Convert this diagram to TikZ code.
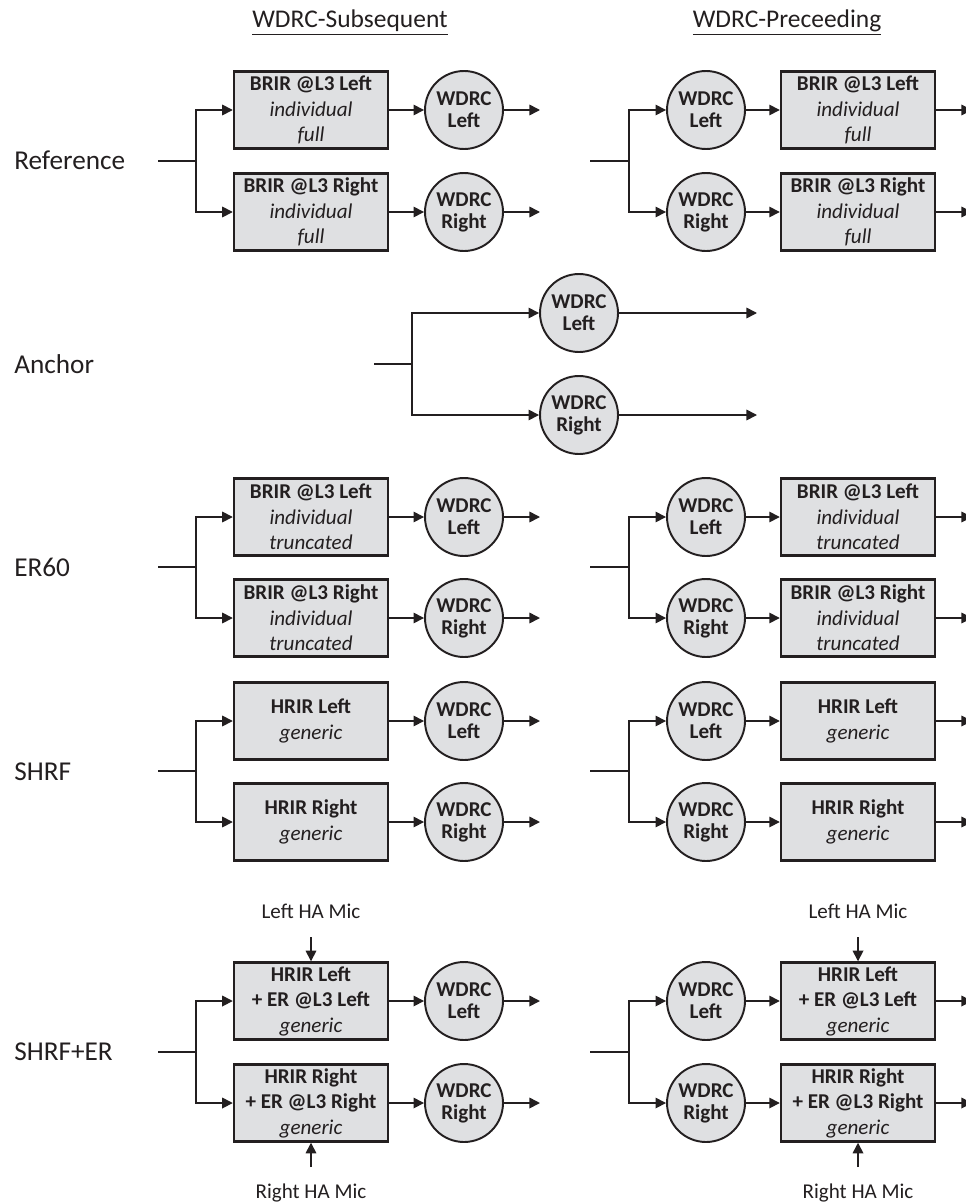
\documentclass[tikz,border=0pt]{standalone}
\usepackage{fontspec}
\setmainfont{Carlito}
\usetikzlibrary{arrows.meta}

\definecolor{blkgray}{RGB}{223,224,226}
\definecolor{ink}{RGB}{35,31,32}

\tikzset{
  blk/.style={draw=ink, line width=1.4pt, fill=blkgray, minimum width=3.08cm,
    minimum height=1.54cm, inner sep=1pt, align=center, text=ink,
    font=\fontsize{12}{14.5}\selectfont},
  wdrc/.style={circle, draw=ink, line width=1.1pt, fill=blkgray, minimum size=1.56cm,
    inner sep=0pt, align=center, text=ink, font=\fontsize{12}{12.5}\selectfont\bfseries},
  wire/.style={draw=ink, line width=0.9pt},
  conn/.style={wire, -{Triangle[length=6pt,width=6pt]}},
  elbow/.style={to path={|- (\tikztotarget)}},
  rowlbl/.style={anchor=base west, inner sep=0pt, text=ink, font=\fontsize{15.5}{18}\selectfont},
  hdr/.style={anchor=base, inner sep=0pt, text=ink, font=\fontsize{14.5}{17}\selectfont},
  mic/.style={anchor=base, inner sep=0pt, text=ink, font=\fontsize{12}{14}\selectfont}
}

\begin{document}
\begin{tikzpicture}[x=0.02cm,y=-0.02cm]
    \useasboundingbox (0,0) rectangle (966,1203);

    % column heads and row names
    \node[hdr] (hSub) at (350,28) {\underline{WDRC-Subsequent}};
    \node[hdr] (hPre) at (787,28) {\underline{WDRC-Preceeding}};
    \node[rowlbl] (lRef) at (14,169) {Reference};
    \node[rowlbl] (lAnc) at (14,373) {Anchor};
    \node[rowlbl] (lER) at (14,576) {ER60};
    \node[rowlbl] (lSH) at (14,780) {SHRF};
    \node[rowlbl] (lSX) at (14,1060) {SHRF+ER};

    % Reference
    \coordinate (refS-in) at (158,161); \coordinate (refS-br) at (196,161);
    \coordinate (refS-oL) at (540,110); \coordinate (refS-oR) at (540,212);
    \node[blk] (refS-bL) at (311,110) {\textbf{BRIR @L3 Left}\\\textit{individual}\\\textit{full}};
    \node[blk] (refS-bR) at (311,212) {\textbf{BRIR @L3 Right}\\\textit{individual}\\\textit{full}};
    \node[wdrc] (refS-wL) at (464,110) {WDRC\\Left};
    \node[wdrc] (refS-wR) at (464,212) {WDRC\\Right};
    \draw[wire] (refS-in) -- (refS-br);
    \path (refS-br) edge[conn,elbow] (refS-bL) edge[conn,elbow] (refS-bR)
        (refS-bL) edge[conn] (refS-wL) (refS-wL) edge[conn] (refS-oL)
        (refS-bR) edge[conn] (refS-wR) (refS-wR) edge[conn] (refS-oR);

    \coordinate (refP-in) at (590,161); \coordinate (refP-br) at (629,161);
    \coordinate (refP-oL) at (972,110); \coordinate (refP-oR) at (972,212);
    \node[wdrc] (refP-wL) at (706,110) {WDRC\\Left};
    \node[wdrc] (refP-wR) at (706,212) {WDRC\\Right};
    \node[blk] (refP-bL) at (858,110) {\textbf{BRIR @L3 Left}\\\textit{individual}\\\textit{full}};
    \node[blk] (refP-bR) at (858,212) {\textbf{BRIR @L3 Right}\\\textit{individual}\\\textit{full}};
    \draw[wire] (refP-in) -- (refP-br);
    \path (refP-br) edge[conn,elbow] (refP-wL) edge[conn,elbow] (refP-wR)
        (refP-wL) edge[conn] (refP-bL) (refP-bL) edge[conn] (refP-oL)
        (refP-wR) edge[conn] (refP-bR) (refP-bR) edge[conn] (refP-oR);

    % Anchor
    \coordinate (anc-in) at (374,364); \coordinate (anc-br) at (412,364);
    \coordinate (anc-oL) at (757,313); \coordinate (anc-oR) at (757,415);
    \node[wdrc] (anc-wL) at (579,313) {WDRC\\Left};
    \node[wdrc] (anc-wR) at (579,415) {WDRC\\Right};
    \draw[wire] (anc-in) -- (anc-br);
    \path (anc-br) edge[conn,elbow] (anc-wL) edge[conn,elbow] (anc-wR)
        (anc-wL) edge[conn] (anc-oL) (anc-wR) edge[conn] (anc-oR);

    % ER60
    \coordinate (erS-in) at (158,567); \coordinate (erS-br) at (196,567);
    \coordinate (erS-oL) at (540,517); \coordinate (erS-oR) at (540,618);
    \node[blk] (erS-bL) at (311,517) {\textbf{BRIR @L3 Left}\\\textit{individual}\\\textit{truncated}};
    \node[blk] (erS-bR) at (311,618) {\textbf{BRIR @L3 Right}\\\textit{individual}\\\textit{truncated}};
    \node[wdrc] (erS-wL) at (464,517) {WDRC\\Left};
    \node[wdrc] (erS-wR) at (464,618) {WDRC\\Right};
    \draw[wire] (erS-in) -- (erS-br);
    \path (erS-br) edge[conn,elbow] (erS-bL) edge[conn,elbow] (erS-bR)
        (erS-bL) edge[conn] (erS-wL) (erS-wL) edge[conn] (erS-oL)
        (erS-bR) edge[conn] (erS-wR) (erS-wR) edge[conn] (erS-oR);

    \coordinate (erP-in) at (590,567); \coordinate (erP-br) at (629,567);
    \coordinate (erP-oL) at (972,517); \coordinate (erP-oR) at (972,618);
    \node[wdrc] (erP-wL) at (706,517) {WDRC\\Left};
    \node[wdrc] (erP-wR) at (706,618) {WDRC\\Right};
    \node[blk] (erP-bL) at (858,517) {\textbf{BRIR @L3 Left}\\\textit{individual}\\\textit{truncated}};
    \node[blk] (erP-bR) at (858,618) {\textbf{BRIR @L3 Right}\\\textit{individual}\\\textit{truncated}};
    \draw[wire] (erP-in) -- (erP-br);
    \path (erP-br) edge[conn,elbow] (erP-wL) edge[conn,elbow] (erP-wR)
        (erP-wL) edge[conn] (erP-bL) (erP-bL) edge[conn] (erP-oL)
        (erP-wR) edge[conn] (erP-bR) (erP-bR) edge[conn] (erP-oR);

    % SHRF
    \coordinate (shS-in) at (158,771); \coordinate (shS-br) at (196,771);
    \coordinate (shS-oL) at (540,721); \coordinate (shS-oR) at (540,822);
    \node[blk] (shS-bL) at (311,721) {\textbf{HRIR Left}\\\textit{generic}};
    \node[blk] (shS-bR) at (311,822) {\textbf{HRIR Right}\\\textit{generic}};
    \node[wdrc] (shS-wL) at (464,721) {WDRC\\Left};
    \node[wdrc] (shS-wR) at (464,822) {WDRC\\Right};
    \draw[wire] (shS-in) -- (shS-br);
    \path (shS-br) edge[conn,elbow] (shS-bL) edge[conn,elbow] (shS-bR)
        (shS-bL) edge[conn] (shS-wL) (shS-wL) edge[conn] (shS-oL)
        (shS-bR) edge[conn] (shS-wR) (shS-wR) edge[conn] (shS-oR);

    \coordinate (shP-in) at (590,771); \coordinate (shP-br) at (629,771);
    \coordinate (shP-oL) at (972,721); \coordinate (shP-oR) at (972,822);
    \node[wdrc] (shP-wL) at (706,721) {WDRC\\Left};
    \node[wdrc] (shP-wR) at (706,822) {WDRC\\Right};
    \node[blk] (shP-bL) at (858,721) {\textbf{HRIR Left}\\\textit{generic}};
    \node[blk] (shP-bR) at (858,822) {\textbf{HRIR Right}\\\textit{generic}};
    \draw[wire] (shP-in) -- (shP-br);
    \path (shP-br) edge[conn,elbow] (shP-wL) edge[conn,elbow] (shP-wR)
        (shP-wL) edge[conn] (shP-bL) (shP-bL) edge[conn] (shP-oL)
        (shP-wR) edge[conn] (shP-bR) (shP-bR) edge[conn] (shP-oR);

    % SHRF+ER
    \coordinate (sxS-in) at (158,1052); \coordinate (sxS-br) at (196,1052);
    \coordinate (sxS-oL) at (540,1001); \coordinate (sxS-oR) at (540,1103);
    \coordinate (sxS-mL) at (311,937); \coordinate (sxS-mR) at (311,1167);
    \node[mic] (sxS-tL) at (311,918) {Left HA Mic};
    \node[mic] (sxS-tR) at (311,1198) {Right HA Mic};
    \node[blk] (sxS-bL) at (311,1001) {\textbf{HRIR Left}\\\textbf{+ ER @L3 Left}\\\textit{generic}};
    \node[blk] (sxS-bR) at (311,1103) {\textbf{HRIR Right}\\\textbf{+ ER @L3 Right}\\\textit{generic}};
    \node[wdrc] (sxS-wL) at (464,1001) {WDRC\\Left};
    \node[wdrc] (sxS-wR) at (464,1103) {WDRC\\Right};
    \draw[wire] (sxS-in) -- (sxS-br);
    \path (sxS-br) edge[conn,elbow] (sxS-bL) edge[conn,elbow] (sxS-bR)
        (sxS-bL) edge[conn] (sxS-wL) (sxS-wL) edge[conn] (sxS-oL)
        (sxS-bR) edge[conn] (sxS-wR) (sxS-wR) edge[conn] (sxS-oR)
        (sxS-mL) edge[conn] (sxS-bL) (sxS-mR) edge[conn] (sxS-bR);

    \coordinate (sxP-in) at (590,1052); \coordinate (sxP-br) at (629,1052);
    \coordinate (sxP-oL) at (972,1001); \coordinate (sxP-oR) at (972,1103);
    \coordinate (sxP-mL) at (858,937); \coordinate (sxP-mR) at (858,1167);
    \node[mic] (sxP-tL) at (858,918) {Left HA Mic};
    \node[mic] (sxP-tR) at (858,1198) {Right HA Mic};
    \node[wdrc] (sxP-wL) at (706,1001) {WDRC\\Left};
    \node[wdrc] (sxP-wR) at (706,1103) {WDRC\\Right};
    \node[blk] (sxP-bL) at (858,1001) {\textbf{HRIR Left}\\\textbf{+ ER @L3 Left}\\\textit{generic}};
    \node[blk] (sxP-bR) at (858,1103) {\textbf{HRIR Right}\\\textbf{+ ER @L3 Right}\\\textit{generic}};
    \draw[wire] (sxP-in) -- (sxP-br);
    \path (sxP-br) edge[conn,elbow] (sxP-wL) edge[conn,elbow] (sxP-wR)
        (sxP-wL) edge[conn] (sxP-bL) (sxP-bL) edge[conn] (sxP-oL)
        (sxP-wR) edge[conn] (sxP-bR) (sxP-bR) edge[conn] (sxP-oR)
        (sxP-mL) edge[conn] (sxP-bL) (sxP-mR) edge[conn] (sxP-bR);
\end{tikzpicture}
\end{document}
